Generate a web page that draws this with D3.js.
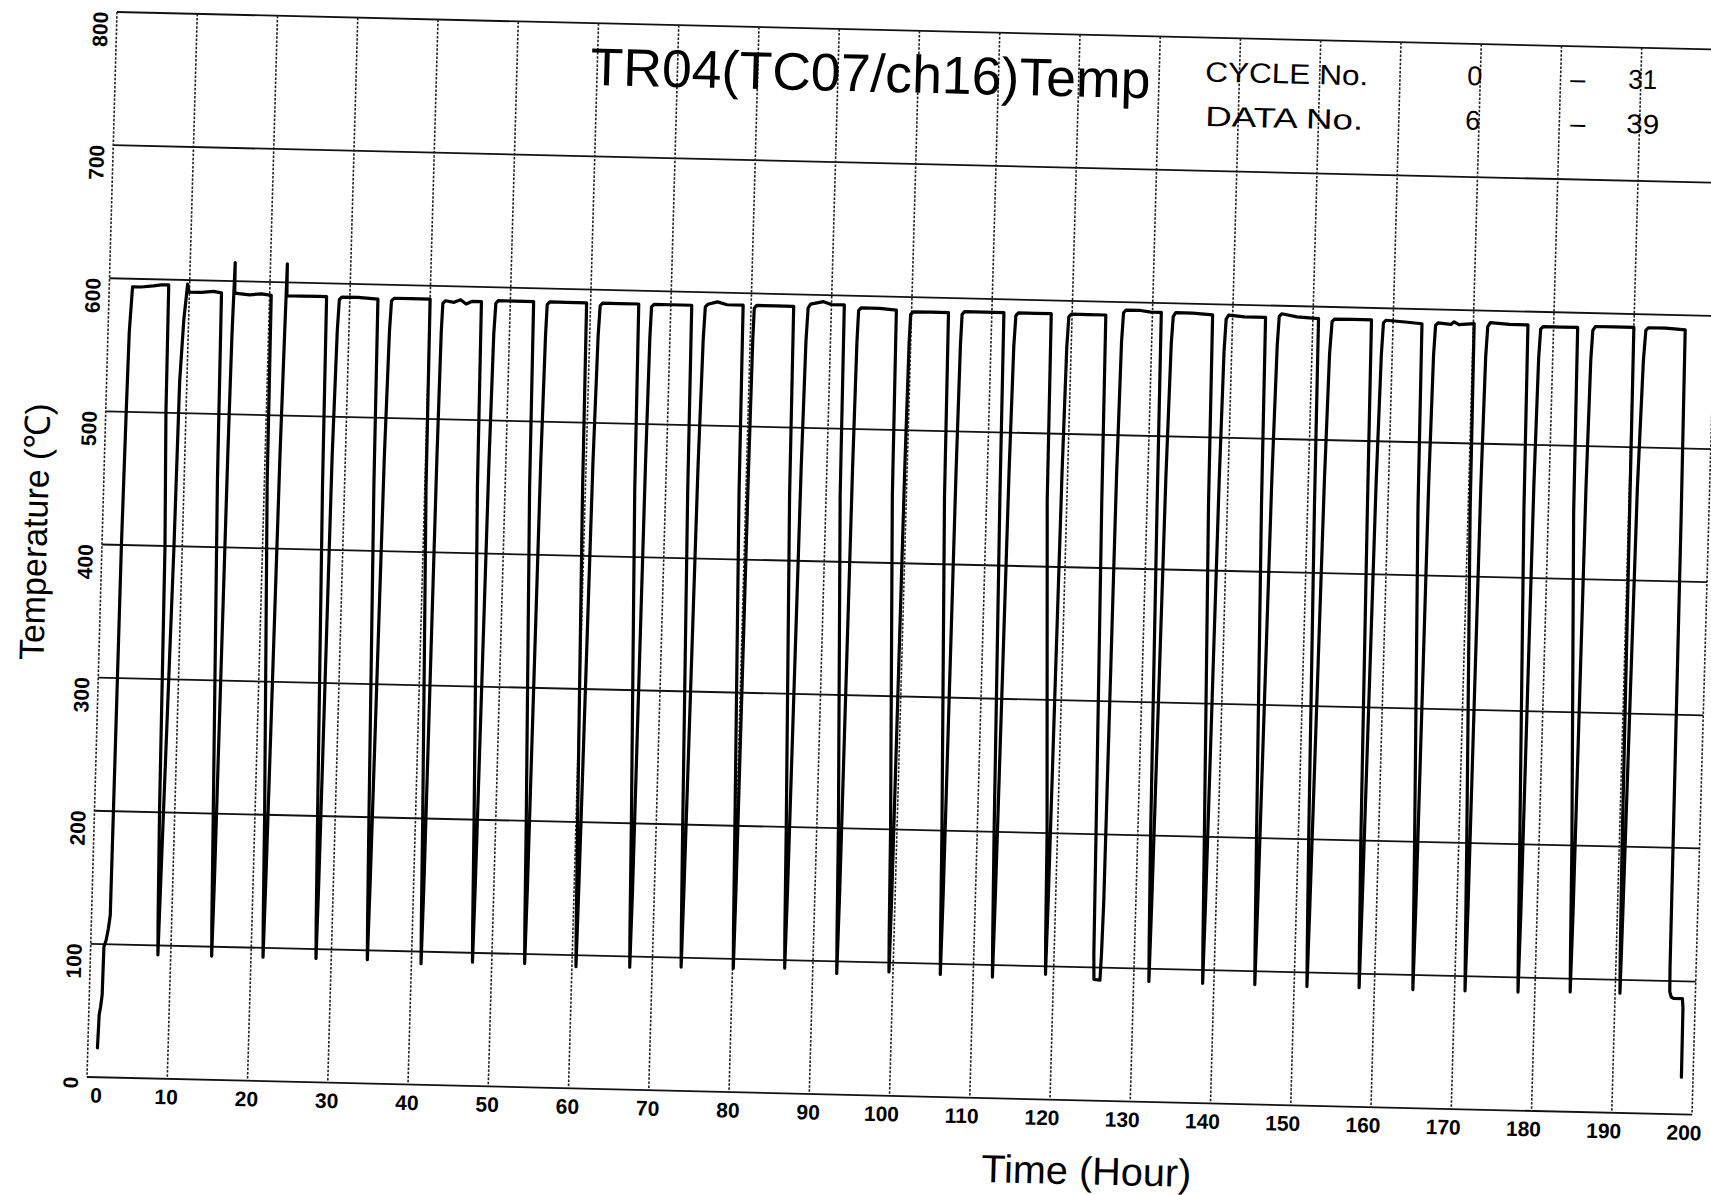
<!DOCTYPE html>
<html>
<head>
<meta charset="utf-8">
<title>TR04(TC07/ch16)Temp</title>
<script src="https://cdn.jsdelivr.net/npm/d3@7/dist/d3.min.js"></script>
<style>
  html, body { margin: 0; padding: 0; background: #fff; }
  svg { display: block; }
</style>
</head>
<body>
<svg id="chart" width="1711" height="1195"></svg>
<script>
// ---- data ---------------------------------------------------------------
const hourTicks = [0, 10, 20, 30, 40, 50, 60, 70, 80, 90, 100, 110, 120, 130, 140, 150, 160, 170, 180, 190, 200];
const tempTicks = [0, 100, 200, 300, 400, 500, 600, 700, 800];

const titleText = "TR04(TC07/ch16)Temp";
const cycleLabel = "CYCLE No.";
const dataLabel = "DATA No.";
const cycleRange = ["0", "31"];
const dataRange = ["6", "39"];
const xTitle = "Time (Hour)";
const yTitle = "Temperature (\u2103)";

// thermocouple trace: [hour, °C]
const trace = [
  [1.2, 22], [1.3, 47], [1.45, 53], [1.6, 62], [1.65, 98], [1.9, 103], [2.15, 112], [2.33, 122],
  [2.36, 205], [2.42, 400], [2.55, 500], [2.65, 560], [2.9, 594],
  [4.0, 594], [5.5, 595], [6.5, 596], [7.4, 596],
  [7.5, 500], [7.85, 400], [8.1, 200], [8.3, 120], [8.4, 93],
  [8.5, 150], [8.97, 400], [9.1, 524], [9.4, 570], [9.75, 597], [9.95, 591],
  [11.5, 591], [13.0, 592], [14.0, 591],
  [14.15, 450], [14.8, 200], [15.0, 120], [15.1, 93],
  [15.18, 150], [15.35, 470], [15.45, 560], [15.6, 614], [15.65, 591],
  [17.5, 590], [19.0, 591], [20.2, 590],
  [20.35, 450], [21.2, 200], [21.4, 120], [21.5, 93],
  [21.58, 150], [21.85, 470], [22.0, 560], [22.1, 614], [22.15, 590],
  [24.0, 590], [26.0, 590], [27.1, 590],
  [27.25, 450], [27.8, 200], [28.0, 120], [28.1, 93],
  [28.18, 150], [28.35, 470], [28.55, 565], [28.7, 588],
  [29.0, 590], [31.0, 590], [33.5, 589],
  [33.65, 450], [34.2, 200], [34.4, 120], [34.5, 93],
  [34.58, 150], [34.85, 470], [35.05, 565], [35.2, 588],
  [35.5, 590], [37.5, 590], [40.0, 590],
  [40.15, 450], [40.9, 200], [41.1, 120], [41.2, 91],
  [41.28, 150], [41.4, 470], [41.5, 565], [41.6, 587],
  [41.9, 589], [43.0, 588], [43.8, 590], [44.5, 587], [45.2, 589], [46.4, 589],
  [46.55, 450], [47.3, 200], [47.5, 120], [47.6, 93],
  [47.68, 150], [47.9, 470], [48.05, 565], [48.2, 588],
  [48.5, 590], [50.5, 590], [52.9, 590],
  [53.05, 450], [53.8, 200], [54.0, 120], [54.1, 93],
  [54.18, 150], [54.35, 470], [54.5, 565], [54.6, 588],
  [54.9, 590], [57.0, 590], [59.5, 590],
  [59.65, 450], [60.2, 200], [60.4, 120], [60.5, 91.5],
  [60.58, 150], [60.85, 470], [61.05, 565], [61.2, 588],
  [61.5, 590], [63.5, 590], [66.0, 590],
  [66.15, 450], [66.9, 200], [67.1, 120], [67.2, 92],
  [67.28, 150], [67.4, 470], [67.5, 565], [67.6, 588],
  [67.9, 590], [70.0, 590], [72.6, 590],
  [72.75, 450], [73.3, 200], [73.5, 120], [73.6, 93],
  [73.68, 150], [73.95, 470], [74.15, 565], [74.3, 589],
  [74.6, 591], [75.8, 593], [77.0, 591], [79.0, 591],
  [79.15, 450], [79.8, 200], [80.0, 120], [80.1, 93],
  [80.16, 150], [80.25, 470], [80.32, 565], [80.4, 589],
  [80.7, 591], [83.0, 591], [85.3, 591],
  [85.45, 450], [86.2, 200], [86.4, 120], [86.5, 94],
  [86.58, 150], [86.8, 470], [86.95, 565], [87.1, 590],
  [87.4, 593], [89.0, 595], [90.0, 593], [91.6, 593],
  [91.75, 450], [92.7, 200], [92.9, 120], [93.0, 91],
  [93.08, 150], [93.2, 470], [93.3, 565], [93.4, 589],
  [93.7, 591], [96.0, 591], [98.1, 590],
  [98.25, 450], [99.2, 200], [99.4, 120], [99.5, 93],
  [99.58, 150], [99.7, 470], [99.8, 565], [99.9, 587],
  [100.2, 589], [102.5, 589], [104.6, 589],
  [104.75, 450], [105.6, 200], [105.8, 120], [105.9, 92],
  [105.98, 150], [106.1, 470], [106.2, 565], [106.3, 588],
  [106.6, 590], [109.0, 590], [111.5, 590],
  [111.65, 450], [112.1, 200], [112.3, 120], [112.4, 91],
  [112.48, 150], [112.7, 470], [112.85, 565], [113.0, 588],
  [113.3, 590], [115.5, 590], [117.4, 590],
  [117.55, 450], [118.7, 200], [118.9, 120], [119.0, 94],
  [119.08, 150], [119.3, 470], [119.45, 565], [119.6, 588],
  [119.9, 590], [122.0, 590], [124.2, 590],
  [124.35, 450], [124.8, 200], [124.95, 110], [125.05, 91], [125.8, 90.5], [125.9, 110],
  [126.0, 150], [126.1, 470], [126.25, 570], [126.4, 592],
  [126.7, 594], [128.5, 594], [129.8, 593], [131.1, 593],
  [131.25, 450], [131.6, 200], [131.8, 120], [131.9, 90.5],
  [131.98, 150], [132.25, 470], [132.45, 570], [132.6, 590],
  [132.9, 593], [135.0, 593], [137.5, 592],
  [137.65, 450], [138.3, 200], [138.5, 120], [138.6, 90],
  [138.68, 150], [138.9, 470], [139.05, 565], [139.2, 589],
  [139.5, 592], [141.5, 591], [144.1, 591],
  [144.25, 450], [144.8, 200], [145.0, 120], [145.1, 90],
  [145.18, 150], [145.45, 470], [145.65, 570], [145.8, 592],
  [146.1, 594], [148.0, 592], [150.7, 591],
  [150.85, 450], [151.3, 200], [151.5, 120], [151.6, 89.5],
  [151.68, 150], [152.0, 470], [152.2, 565], [152.4, 589],
  [152.7, 591], [155.0, 591], [157.3, 591],
  [157.45, 450], [157.8, 200], [158.0, 120], [158.1, 89.5],
  [158.18, 150], [158.45, 470], [158.65, 565], [158.8, 589],
  [159.1, 591], [161.5, 590], [163.6, 589],
  [163.75, 450], [164.5, 200], [164.7, 120], [164.8, 89],
  [164.88, 150], [165.0, 470], [165.15, 565], [165.3, 588],
  [165.6, 590], [167.2, 589], [167.6, 591], [168.2, 589], [170.1, 590],
  [170.25, 450], [171.0, 200], [171.2, 120], [171.3, 89],
  [171.38, 150], [171.5, 470], [171.65, 565], [171.8, 588],
  [172.1, 591], [174.5, 590], [176.8, 590],
  [176.95, 450], [177.6, 200], [177.8, 120], [177.9, 89],
  [177.98, 150], [178.1, 470], [178.25, 565], [178.4, 587],
  [178.7, 589], [181.0, 589], [183.0, 589],
  [183.15, 450], [184.1, 200], [184.3, 120], [184.4, 90],
  [184.48, 150], [184.6, 470], [184.75, 565], [184.9, 587],
  [185.2, 590], [187.5, 590], [190.0, 590],
  [190.12, 450], [190.35, 200], [190.5, 120], [190.6, 90],
  [190.68, 150], [191.0, 470], [191.3, 565], [191.5, 588],
  [191.8, 590], [194.0, 590], [196.4, 589],
  [196.55, 450], [196.7, 200], [196.75, 110], [196.8, 92], [197.0, 88], [197.3, 87],
  [198.4, 87], [198.5, 80], [198.55, 28]
];

// ---- layout -------------------------------------------------------------
const W = 1605, H = 1062.5;
// the recorder sheet sits slightly skewed on the page
const sheet = { a: 1, b: 0.0235, c: -0.02824, d: 1.00235, e: 117, f: 12 };
const FONT = "'Liberation Sans', Arial, Helvetica, sans-serif";

function toLocal(xs, ys) {
  const det = sheet.a * sheet.d - sheet.b * sheet.c;
  const u = xs - sheet.e, v = ys - sheet.f;
  return [(sheet.d * u - sheet.c * v) / det, (-sheet.b * u + sheet.a * v) / det];
}

const x = d3.scaleLinear().domain([0, 200]).range([0, W]);
const y = d3.scaleLinear().domain([0, 800]).range([H, 0]);

const svg = d3.select("#chart");
svg.append("rect").attr("width", 1711).attr("height", 1195).attr("fill", "#fff");

const g = svg.append("g")
  .attr("transform", `matrix(${sheet.a},${sheet.b},${sheet.c},${sheet.d},${sheet.e},${sheet.f})`);

// horizontal grid (solid)
g.append("g").selectAll("line")
  .data(tempTicks)
  .join("line")
  .attr("x1", 0).attr("x2", W)
  .attr("y1", d => y(d)).attr("y2", d => y(d))
  .attr("stroke", "#111")
  .attr("stroke-width", 1.8);

// vertical grid (dotted)
g.append("g").selectAll("line")
  .data(hourTicks)
  .join("line")
  .attr("x1", d => x(d)).attr("x2", d => x(d))
  .attr("y1", 0).attr("y2", H)
  .attr("stroke", "#222")
  .attr("stroke-width", 1.6)
  .attr("stroke-dasharray", "2.5 1.6");

// time axis labels
const xAxis = g.append("g")
  .attr("transform", `translate(0,${H})`)
  .call(d3.axisBottom(x).tickValues(hourTicks).tickSize(0).tickPadding(10.5).tickFormat(d3.format("d")));
xAxis.select(".domain").remove();
xAxis.attr("font-family", FONT).attr("font-size", 21).attr("font-weight", "bold");
xAxis.selectAll("text")
  .attr("fill", "#000")
  .attr("dx", d => (d === 0 ? 9 : d >= 100 ? -8 : -1));

// temperature labels (read bottom to top, hanging below each grid line)
g.append("g")
  .attr("font-family", FONT).attr("font-size", 21).attr("font-weight", "bold")
  .selectAll("text")
  .data(tempTicks)
  .join("text")
  .attr("transform", d => `translate(-9,${y(d)}) rotate(-90)`)
  .attr("text-anchor", "end")
  .attr("fill", "#000")
  .text(d => d);

// trace
const line = d3.line().x(d => x(d[0])).y(d => y(d[1]));
g.append("path")
  .datum(trace)
  .attr("d", line)
  .attr("fill", "none")
  .attr("stroke", "#000")
  .attr("stroke-width", 3.2)
  .attr("stroke-linejoin", "round")
  .attr("stroke-linecap", "round");

// header texts
function putText(xs, ys, str, size, opts = {}) {
  const [lx, ly] = toLocal(xs, ys);
  const t = g.append("text")
    .attr("x", lx).attr("y", ly)
    .attr("font-family", FONT)
    .attr("font-size", size)
    .attr("fill", "#000")
    .text(str);
  if (opts.length) t.attr("textLength", opts.length).attr("lengthAdjust", "spacingAndGlyphs");
  if (opts.anchor) t.attr("text-anchor", opts.anchor);
  return t;
}

putText(590, 85, titleText, 53, { length: 560 });
putText(1205, 81.5, cycleLabel, 28, { length: 163 });
putText(1205, 126, dataLabel, 28, { length: 158 });
putText(1467, 85, cycleRange[0], 27);
putText(1465, 129.5, dataRange[0], 27);
putText(1570, 88, "\u2013", 27);
putText(1570, 132.5, "\u2013", 27);
putText(1628, 88.5, cycleRange[1], 27, { length: 29 });
putText(1626, 133, dataRange[1], 27, { length: 33 });

// axis titles
putText(981, 1182, xTitle, 39, { length: 210 });
{
  const [lx, ly] = toLocal(47, 532);
  g.append("text")
    .attr("transform", `translate(${lx},${ly}) rotate(-90)`)
    .attr("text-anchor", "middle")
    .attr("font-family", FONT)
    .attr("font-size", 35)
    .attr("fill", "#000")
    .attr("textLength", 256)
    .attr("lengthAdjust", "spacingAndGlyphs")
    .text(yTitle);
}
</script>
</body>
</html>
